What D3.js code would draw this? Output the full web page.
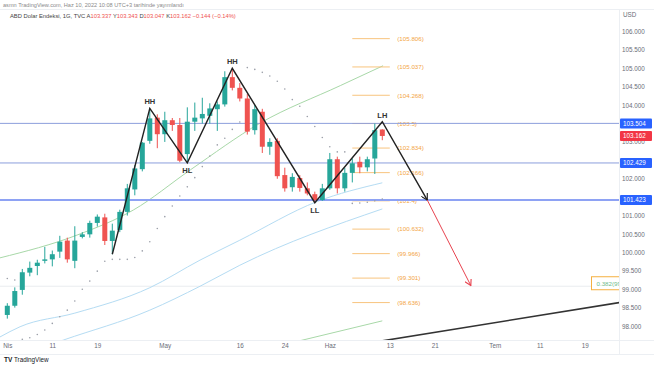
<!DOCTYPE html>
<html>
<head>
<meta charset="utf-8">
<script src="https://cdn.jsdelivr.net/npm/d3@7"></script>
<style>
  body { margin: 0; background: #fff; }
  svg { display: block; font-family: "Liberation Sans", Arial, sans-serif; }
</style>
</head>
<body>
<svg class="chart" width="654" height="366"></svg>
<script>
// daily candles, Nis 1 -> Haz 10 (bar index 0..50)
const opens  = [98.30, 98.55, 98.98, 99.45, 99.63, 99.77, 99.81, 100.02, 100.32, 99.77,
                100.42, 100.49, 100.80, 100.95, 100.31, 100.61, 101.10, 101.71, 102.26, 103.03,
                103.66, 103.21, 103.59, 103.46, 102.67, 103.55, 103.64, 103.71, 103.89, 104.02,
                104.76, 104.47, 104.18, 103.32, 103.82, 102.87, 103.03, 102.10, 101.77, 102.02,
                101.74, 101.58, 101.42, 101.74, 102.53, 101.74, 102.16, 102.46, 102.31, 102.55,
                103.337];
const highs  = [98.62, 99.05, 99.55, 99.75, 99.80, 100.15, 100.05, 100.45, 100.40, 100.71,
                100.55, 100.86, 101.03, 101.05, 100.78, 101.16, 101.86, 102.37, 103.00, 103.91,
                103.75, 103.82, 103.65, 103.65, 103.94, 104.07, 104.20, 104.05, 104.10, 104.92,
                105.00, 104.60, 104.30, 104.00, 103.90, 103.10, 103.10, 102.30, 102.15, 102.10,
                101.90, 101.65, 101.86, 102.70, 102.60, 102.30, 102.55, 102.60, 102.60, 103.50,
                103.343];
const lows   = [98.20, 98.50, 98.85, 99.35, 99.38, 99.70, 99.62, 99.85, 99.72, 99.57,
                100.38, 100.40, 100.70, 100.20, 99.95, 100.55, 101.00, 101.55, 102.20, 102.95,
                102.83, 103.00, 103.30, 102.45, 102.43, 103.30, 103.50, 103.50, 103.30, 103.96,
                104.40, 104.10, 103.20, 103.20, 102.70, 102.65, 102.00, 101.65, 101.65, 101.65,
                101.55, 101.35, 101.40, 101.70, 101.60, 101.65, 101.90, 102.15, 102.20, 102.13,
                103.047];
const closes = [98.55, 98.95, 99.46, 99.58, 99.72, 99.81, 99.95, 100.29, 99.81, 100.32,
                100.49, 100.80, 100.97, 100.31, 100.59, 101.10, 101.74, 102.28, 102.98, 103.64,
                103.21, 103.59, 103.46, 102.49, 103.55, 103.66, 103.76, 103.91, 104.02, 104.76,
                104.47, 104.18, 103.28, 103.89, 102.87, 103.00, 102.07, 101.74, 102.05, 101.75,
                101.60, 101.42, 101.74, 102.53, 101.74, 102.16, 102.42, 102.31, 102.53, 103.32,
                103.162];
// parabolic SAR, one per bar
const sar = [99.29, 99.25, 97.64, 97.68, 97.77, 97.89, 98.07, 98.25, 98.43, 98.68,
             99.00, 99.22, 99.49, 99.76, 99.81, 99.81, 99.81, 99.86, 100.04, 100.29,
             100.65, 100.97, 101.26, 101.53, 101.78, 102.03, 102.33, 102.62, 102.92, 103.10,
             103.34, 103.54, 105.02, 104.97, 104.89, 104.79, 104.65, 104.44, 104.15, 103.97,
             103.69, 103.42, 103.12, 102.87, 102.73, 102.73, 101.33, 101.34, 101.36, 101.40,
             101.45];

// moving averages / trend curves read at a few bars
const greenIdx = [-1, 9.3, 16.8, 24.4, 33.7, 44.4, 50.1];
const greenVal = [99.85, 100.47, 101.15, 102.24, 103.51, 104.53, 105.07];
const blue1Idx = [-1, 1.7, 9, 19, 25.7, 31, 41.3, 50];
const blue1Val = [97.70, 97.98, 98.35, 99.04, 99.79, 100.33, 101.38, 101.89];
const blue2Idx = [3, 7.5, 19, 25.7, 31, 50];
const blue2Val = [97.30, 97.62, 98.43, 99.08, 99.65, 101.18];
const green2Idx = [38, 50];
const green2Val = [97.55, 98.14];
const trendIdx = [44, 82];
const trendVal = [97.40, 98.65];

// swing structure
const swingIdx = [14, 19, 24, 30, 41, 50, 56];
const swingVal = [99.95, 103.91, 102.43, 105.00, 101.35, 103.55, 101.42];
const swingLabels = ["", "HH", "HL", "HH", "LL", "LH", ""];
const projIdx = [56, 61.8];
const projVal = [101.42, 99.10];

// fib levels
const fibLevels = [105.806, 105.037, 104.268, 103.5, 102.834, 102.166, 101.4, 100.632, 99.966, 99.301, 98.636];
const fibText = ["105.806", "105.037", "104.268", "103.5", "102.834", "102.166", "101.4", "100.632", "99.966", "99.301", "98.636"];

// horizontal levels
const hLevels = [103.504, 102.429, 101.423];
const hLabels = ["103.504", "102.429", "101.423"];
const lastPrice = 103.162;

const yTicks = [98, 98.5, 99, 99.5, 100, 100.5, 101, 101.5, 102, 102.5, 103, 103.5, 104, 104.5, 105, 105.5, 106];
const xTickIdx = [0, 6, 12, 21, 31, 37, 43, 51, 57, 65, 71, 77];
const xTickLabels = ["Nis", "11", "19", "May", "16", "24", "Haz", "13", "21", "Tem", "11", "19"];

const W = 654, H = 366;
const plot = { left: 0, right: 619, top: 10, bottom: 340 };
const up = "#26a69a", down = "#ef5350";

const svg = d3.select(".chart").attr("viewBox", `0 0 ${W} ${H}`);

const x = d3.scaleLinear().domain([0, 50]).range([7.3, 382.3]);
const y = d3.scaleLinear().domain([98, 106]).range([326, 31.5]);

const defs = svg.append("defs");
defs.append("clipPath").attr("id", "plotclip")
  .append("rect")
  .attr("x", plot.left).attr("y", plot.top)
  .attr("width", plot.right - plot.left).attr("height", plot.bottom - plot.top);

const addArrow = (id, color) =>
  defs.append("marker")
    .attr("id", id)
    .attr("viewBox", "0 0 8 8")
    .attr("refX", 7).attr("refY", 4)
    .attr("markerWidth", 7).attr("markerHeight", 7)
    .attr("markerUnits", "userSpaceOnUse")
    .attr("orient", "auto")
    .append("path")
    .attr("d", "M0,0 L7,4 L0,8")
    .attr("fill", "none")
    .attr("stroke", color)
    .attr("stroke-width", 1.3);
addArrow("arrBlack", "#222");
addArrow("arrRed", "#e8434f");

// header
svg.append("text")
  .attr("x", 3).attr("y", 6.5)
  .attr("font-size", 5.6).attr("fill", "#8a8a8a")
  .text("asmn TradingView.com, Haz 10, 2022 10:08 UTC+3 tarihinde yayımlandı");
svg.append("line")
  .attr("x1", 0).attr("x2", W).attr("y1", 9.5).attr("y2", 9.5)
  .attr("stroke", "#eceff3");

const legend = svg.append("text")
  .attr("x", 10).attr("y", 18)
  .attr("font-size", 5.8).attr("fill", "#444");
legend.append("tspan").text("ABD Dolar Endeksi, 1G, TVC  ");
[["A", opens[50]], ["Y", highs[50]], ["D", lows[50]], ["K", closes[50]]].forEach(([k, v]) => {
  legend.append("tspan").attr("fill", "#444").text(k);
  legend.append("tspan").attr("fill", down).text(v.toFixed(3) + "  ");
});
legend.append("tspan").attr("fill", down).text("−0.144 (−0.14%)");

const g = svg.append("g").attr("clip-path", "url(#plotclip)");

const curve = (idx, vals) =>
  d3.line().x((d) => x(d[0])).y((d) => y(d[1])).curve(d3.curveMonotoneX)(d3.zip(idx, vals));

// faint level behind everything
g.append("line")
  .attr("x1", plot.left).attr("x2", plot.right)
  .attr("y1", y(99.08)).attr("y2", y(99.08))
  .attr("stroke", "#e9ecef").attr("stroke-width", 1);

// moving averages
g.append("path").attr("d", curve(blue1Idx, blue1Val))
  .attr("fill", "none").attr("stroke", "#b5dcf3").attr("stroke-width", 1);
g.append("path").attr("d", curve(blue2Idx, blue2Val))
  .attr("fill", "none").attr("stroke", "#b5dcf3").attr("stroke-width", 1);
g.append("path").attr("d", curve(greenIdx, greenVal))
  .attr("fill", "none").attr("stroke", "#a8d8a8").attr("stroke-width", 1);
g.append("path").attr("d", curve(green2Idx, green2Val))
  .attr("fill", "none").attr("stroke", "#a8d8a8").attr("stroke-width", 1);

// trend line bottom right
g.append("path").attr("d", d3.line().x((d) => x(d[0])).y((d) => y(d[1]))(d3.zip(trendIdx, trendVal)))
  .attr("fill", "none").attr("stroke", "#333").attr("stroke-width", 1.6);

// fib lines
g.selectAll(".fib-line")
  .data(fibLevels)
  .join("line")
  .attr("class", "fib-line")
  .attr("x1", x(46)).attr("x2", x(51))
  .attr("y1", (d) => y(d)).attr("y2", (d) => y(d))
  .attr("stroke", "#f8c47e").attr("stroke-width", 1);

g.selectAll(".fib-label")
  .data(fibLevels)
  .join("text")
  .attr("class", "fib-label")
  .attr("x", x(52))
  .attr("y", (d) => y(d) + 2.3)
  .attr("font-size", 6.2)
  .attr("fill", "#f3a545")
  .text((d, i) => `(${fibText[i]})`);

// horizontal levels
g.selectAll(".hline")
  .data(hLevels)
  .join("line")
  .attr("class", "hline")
  .attr("x1", plot.left).attr("x2", plot.right)
  .attr("y1", (d) => y(d)).attr("y2", (d) => y(d))
  .attr("stroke", (d, i) => (i === 2 ? "#8ea2f4" : "#8c9fdc"))
  .attr("stroke-width", (d, i) => (i === 2 ? 2 : 1));

// candles
const candles = d3.range(opens.length).map((i) => ({
  i, o: opens[i], h: highs[i], l: lows[i], c: closes[i],
}));
const cg = g.append("g");
cg.selectAll(".wick")
  .data(candles)
  .join("line")
  .attr("class", "wick")
  .attr("x1", (d) => x(d.i)).attr("x2", (d) => x(d.i))
  .attr("y1", (d) => y(d.h)).attr("y2", (d) => y(d.l))
  .attr("stroke", (d) => (d.c >= d.o ? up : down))
  .attr("stroke-width", 1);
cg.selectAll(".body")
  .data(candles)
  .join("rect")
  .attr("class", "body")
  .attr("x", (d) => x(d.i) - 2.5)
  .attr("width", 5)
  .attr("y", (d) => y(Math.max(d.o, d.c)))
  .attr("height", (d) => Math.max(1, Math.abs(y(d.o) - y(d.c))))
  .attr("fill", (d) => (d.c >= d.o ? up : down));

// SAR dots
g.selectAll(".sar")
  .data(sar)
  .join("circle")
  .attr("class", "sar")
  .attr("cx", (d, i) => x(i))
  .attr("cy", (d) => y(d))
  .attr("r", 0.8)
  .attr("fill", "#9a9ea8");

// swing zigzag
const swing = d3.zip(swingIdx, swingVal);
g.append("path")
  .attr("d", d3.line().x((d) => x(d[0])).y((d) => y(d[1]))(swing))
  .attr("fill", "none")
  .attr("stroke", "#222")
  .attr("stroke-width", 1.4)
  .attr("marker-end", "url(#arrBlack)");

g.append("path")
  .attr("d", d3.line().x((d) => x(d[0])).y((d) => y(d[1]))(d3.zip(projIdx, projVal)))
  .attr("fill", "none")
  .attr("stroke", "#e8434f")
  .attr("stroke-width", 1)
  .attr("marker-end", "url(#arrRed)");

g.selectAll(".swing-label")
  .data(swing.filter((d, i) => swingLabels[i]))
  .join("text")
  .attr("class", "swing-label")
  .attr("x", (d) => x(d[0]))
  .attr("y", (d) => {
    const k = swingIdx.indexOf(d[0]);
    const isLow = swingLabels[k] === "HL" || swingLabels[k] === "LL";
    return isLow ? y(d[1]) + 10 : y(d[1]) - 4;
  })
  .attr("text-anchor", "middle")
  .attr("font-size", 7.5)
  .attr("font-weight", "bold")
  .attr("fill", "#333")
  .text((d) => swingLabels[swingIdx.indexOf(d[0])]);

// fib ratio tag near right edge
const tag = g.append("g").attr("transform", `translate(591.5,${y(99.08) - 9.5})`);
tag.append("rect")
  .attr("width", 32).attr("height", 13)
  .attr("fill", "#fff").attr("stroke", "#f5b041").attr("stroke-width", 1);
tag.append("text")
  .attr("x", 5).attr("y", 9)
  .attr("font-size", 6.2).attr("fill", "#6dbb8a")
  .text("0.382(99.08)");

// price axis panel
svg.append("rect")
  .attr("x", plot.right).attr("y", plot.top)
  .attr("width", W - plot.right).attr("height", plot.bottom - plot.top)
  .attr("fill", "#fff");
svg.append("line")
  .attr("x1", plot.right + 0.5).attr("x2", plot.right + 0.5)
  .attr("y1", plot.top).attr("y2", 354)
  .attr("stroke", "#eceff3");
svg.append("line")
  .attr("x1", 0).attr("x2", W)
  .attr("y1", plot.bottom + 0.5).attr("y2", plot.bottom + 0.5)
  .attr("stroke", "#eceff3");
svg.append("line")
  .attr("x1", 0).attr("x2", W)
  .attr("y1", 354.5).attr("y2", 354.5)
  .attr("stroke", "#eceff3");

// price tags hide the tick labels they sit on
const tagValues = hLevels.concat([lastPrice]);
const shownTicks = yTicks.filter((t) => tagValues.every((v) => Math.abs(y(t) - y(v)) > 5.5));

const yAxis = svg.append("g")
  .attr("transform", `translate(${plot.right},0)`)
  .call(d3.axisRight(y).tickValues(shownTicks).tickSize(0).tickPadding(3).tickFormat(d3.format(".3f")));
yAxis.select(".domain").remove();
yAxis.selectAll("text").attr("font-size", 6.3).attr("fill", "#6a6d78").attr("font-family", "Liberation Sans, Arial, sans-serif");

svg.append("text")
  .attr("x", 623).attr("y", 17)
  .attr("font-size", 6.3).attr("fill", "#6a6d78")
  .text("USD");

const tags = hLevels.map((v, i) => ({ v, label: hLabels[i], color: "#2962ff" }))
  .concat([{ v: lastPrice, label: lastPrice.toFixed(3), color: "#f23645" }]);
const tagG = svg.selectAll(".ptag")
  .data(tags)
  .join("g")
  .attr("class", "ptag")
  .attr("transform", (d) => `translate(${plot.right + 1},${y(d.v) - 5})`);
tagG.append("rect")
  .attr("width", 32).attr("height", 10).attr("rx", 1)
  .attr("fill", (d) => d.color);
tagG.append("text")
  .attr("x", 3).attr("y", 7.3)
  .attr("font-size", 6.3).attr("fill", "#fff")
  .text((d) => d.label);

// time axis
const xAxis = svg.append("g")
  .attr("transform", `translate(0,${plot.bottom})`)
  .call(d3.axisBottom(x).tickValues(xTickIdx).tickSize(0).tickPadding(4)
    .tickFormat((d, i) => xTickLabels[i]));
xAxis.select(".domain").remove();
xAxis.selectAll("text").attr("font-size", 6.3).attr("fill", "#6a6d78").attr("font-family", "Liberation Sans, Arial, sans-serif");

// footer logo
svg.append("text")
  .attr("x", 4).attr("y", 362)
  .attr("font-size", 6.5).attr("font-weight", "bold").attr("fill", "#131722")
  .text("TV");
svg.append("text")
  .attr("x", 14).attr("y", 362)
  .attr("font-size", 6.3).attr("fill", "#131722")
  .text("TradingView");
</script>
</body>
</html>
